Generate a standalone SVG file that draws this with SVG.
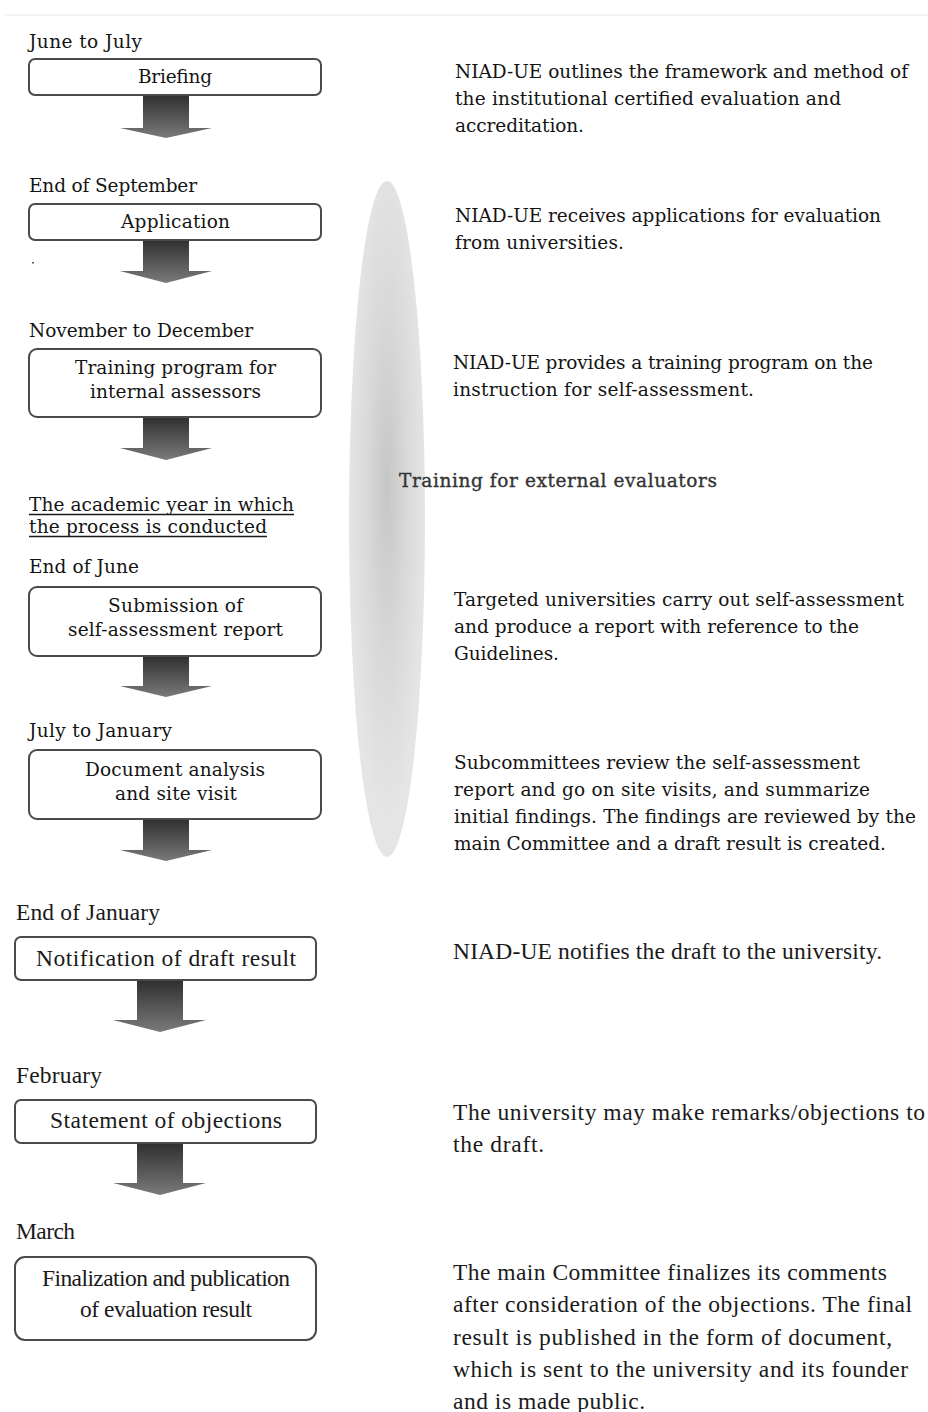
<svg xmlns="http://www.w3.org/2000/svg" width="928" height="1412" viewBox="0 0 928 1412">
<defs>
<linearGradient id="arrowGrad" x1="0" y1="0" x2="0" y2="1">
<stop offset="0" stop-color="#2f2f2f"/>
<stop offset="1" stop-color="#7a7a7a"/>
</linearGradient>
<radialGradient id="ellGrad" cx="0.5" cy="0.45" r="0.5">
<stop offset="0" stop-color="#c6c6c6"/>
<stop offset="0.5" stop-color="#d8d8d8"/>
<stop offset="1" stop-color="#e5e5e5"/>
</radialGradient>
<style>
.t{font-family:"DejaVu Serif",serif;font-size:18.5px;fill:#141414}
.L{font-family:"Liberation Serif",serif;font-size:23.5px;fill:#1a1a1a}
.box{fill:#fff;stroke:#4a4a4a;stroke-width:2}
.arr{fill:url(#arrowGrad)}
.ul{stroke:#1a1a1a;stroke-width:1.3}
</style>
</defs>
<rect width="928" height="1412" fill="#fff"/>
<line x1="5" y1="15" x2="928" y2="15" stroke="#eeeeee" stroke-width="1.5"/>

<g id="band">
<ellipse cx="387" cy="519" rx="38" ry="338" fill="url(#ellGrad)"/>
<text class="t" x="399" y="487" textLength="318" style="fill:#333;stroke:#333;stroke-width:0.35">Training for external evaluators</text>
</g>

<g id="connectors">
<path class="arr" d="M143 95 H189 V128 H212 L166 138 L120 128 H143 Z"/>
<path class="arr" d="M143 240 H189 V271 H212 L166 283 L120 271 H143 Z"/>
<path class="arr" d="M143 417 H189 V448 H212 L166 460 L120 448 H143 Z"/>
<path class="arr" d="M143 656 H189 V686 H212 L166 697 L120 686 H143 Z"/>
<path class="arr" d="M143 819 H189 V850 H212 L166 861 L120 850 H143 Z"/>
<path class="arr" d="M137 980 H183 V1020 H206 L160 1032 L113 1020 H137 Z"/>
<path class="arr" d="M137 1143 H183 V1183 H206 L160 1195 L113 1183 H137 Z"/>
</g>

<g id="briefing">
<text class="t" x="29" y="48" textLength="113">June to July</text>
<rect class="box" x="29" y="59" width="292" height="36" rx="6"/>
<text class="t" x="138" y="83" textLength="74">Briefing</text>
<text class="t" x="455" y="78" textLength="453">NIAD-UE outlines the framework and method of</text>
<text class="t" x="455" y="105" textLength="386">the institutional certified evaluation and</text>
<text class="t" x="455" y="132" textLength="129">accreditation.</text>
</g>

<g id="application">
<text class="t" x="29" y="192" textLength="168">End of September</text>
<rect class="box" x="29" y="204" width="292" height="36" rx="6"/>
<text class="t" x="121" y="228" textLength="109">Application</text>
<rect x="32" y="262" width="2" height="1.5" fill="#555"/>
<text class="t" x="455" y="222" textLength="426">NIAD-UE receives applications for evaluation</text>
<text class="t" x="455" y="249" textLength="169">from universities.</text>
</g>

<g id="training">
<text class="t" x="29" y="337" textLength="224">November to December</text>
<rect class="box" x="29" y="349" width="292" height="68" rx="8"/>
<text class="t" x="75" y="374" textLength="201">Training program for</text>
<text class="t" x="90" y="398" textLength="171">internal assessors</text>
<text class="t" x="453" y="369" textLength="420">NIAD-UE provides a training program on the</text>
<text class="t" x="453" y="396" textLength="301">instruction for self-assessment.</text>
</g>

<g id="academic-year">
<text class="t" x="29" y="511" textLength="265">The academic year in which</text>
<line class="ul" x1="29" y1="514.5" x2="294" y2="514.5"/>
<text class="t" x="29" y="533" textLength="238">the process is conducted</text>
<line class="ul" x1="29" y1="536.5" x2="267" y2="536.5"/>
</g>

<g id="submission">
<text class="t" x="29" y="573" textLength="110">End of June</text>
<rect class="box" x="29" y="587" width="292" height="69" rx="8"/>
<text class="t" x="108" y="612" textLength="135">Submission of</text>
<text class="t" x="68" y="636" textLength="215">self-assessment report</text>
<text class="t" x="454" y="606" textLength="450">Targeted universities carry out self-assessment</text>
<text class="t" x="454" y="633" textLength="405">and produce a report with reference to the</text>
<text class="t" x="454" y="660" textLength="105">Guidelines.</text>
</g>

<g id="document-analysis">
<text class="t" x="29" y="737" textLength="143">July to January</text>
<rect class="box" x="29" y="750" width="292" height="69" rx="8"/>
<text class="t" x="85" y="776" textLength="180">Document analysis</text>
<text class="t" x="115" y="800" textLength="122">and site visit</text>
<text class="t" x="454" y="769" textLength="406">Subcommittees review the self-assessment</text>
<text class="t" x="454" y="796" textLength="416">report and go on site visits, and summarize</text>
<text class="t" x="454" y="823" textLength="462">initial findings. The findings are reviewed by the</text>
<text class="t" x="454" y="850" textLength="432">main Committee and a draft result is created.</text>
</g>

<g id="notification">
<text class="L" x="16" y="920" textLength="144">End of January</text>
<rect class="box" x="15" y="937" width="301" height="43" rx="6"/>
<text class="L" x="36" y="966" textLength="260">Notification of draft result</text>
<text class="L" x="453" y="959" textLength="429">NIAD-UE notifies the draft to the university.</text>
</g>

<g id="objections">
<text class="L" x="16" y="1083" textLength="86">February</text>
<rect class="box" x="15" y="1100" width="301" height="43" rx="6"/>
<text class="L" x="50" y="1128" textLength="232">Statement of objections</text>
<text class="L" x="453" y="1120" textLength="472">The university may make remarks/objections to</text>
<text class="L" x="453" y="1152" textLength="91">the draft.</text>
</g>

<g id="finalization">
<text class="L" x="16" y="1239" textLength="59">March</text>
<rect class="box" x="15" y="1257" width="301" height="83" rx="10"/>
<text class="L" x="42" y="1286" textLength="248">Finalization and publication</text>
<text class="L" x="80" y="1317" textLength="172">of evaluation result</text>
<text class="L" x="453" y="1280" textLength="434">The main Committee finalizes its comments</text>
<text class="L" x="453" y="1312" textLength="459">after consideration of the objections. The final</text>
<text class="L" x="453" y="1345" textLength="439">result is published in the form of document,</text>
<text class="L" x="453" y="1377" textLength="455">which is sent to the university and its founder</text>
<text class="L" x="453" y="1409" textLength="192">and is made public.</text>
</g>
</svg>
